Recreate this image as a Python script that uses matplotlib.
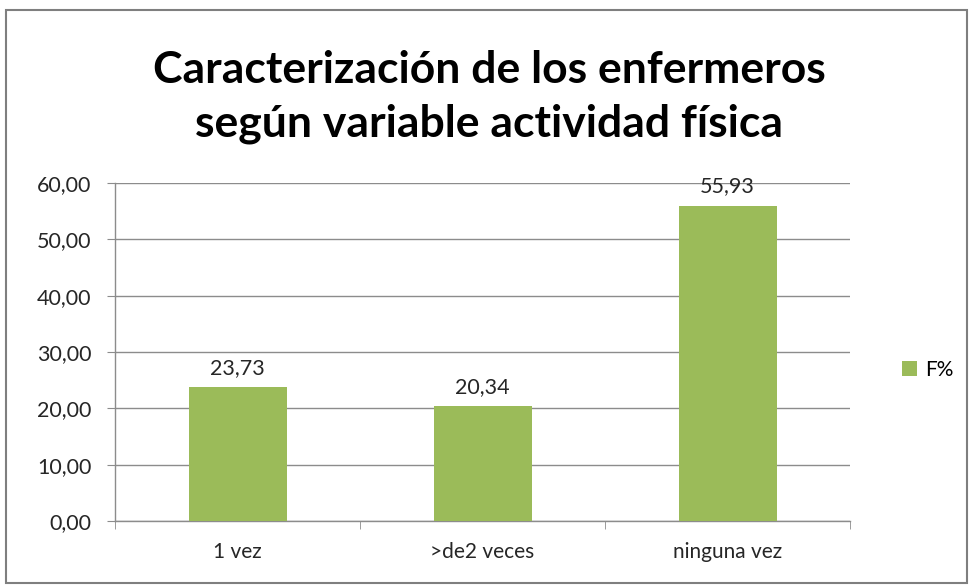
import matplotlib.pyplot as plt
from matplotlib.patches import Rectangle

categories = ["1 vez", ">de2 veces", "ninguna vez"]
values = [23.73, 20.34, 55.93]
series_name = "F%"
y_ticks = [0, 10, 20, 30, 40, 50, 60]

bar_color = "#9BBB59"
grid_color = "#8C8C8C"

plt.rcParams["font.family"] = ["Lato", "DejaVu Sans"]

fig = plt.figure(figsize=(9.73, 5.88), dpi=100)
ax = fig.add_axes([115 / 973, 1 - 521 / 588, 735 / 973, 338 / 588])

# outer chart frame
fig.patches.append(Rectangle((6 / 973, 1 - 583 / 588), 961 / 973, 573 / 588,
                             transform=fig.transFigure, fill=False,
                             edgecolor="#7F7F7F", linewidth=1.5))

x = list(range(len(categories)))
bars = ax.bar(x, values, width=0.4, color=bar_color, label=series_name, zorder=3)

for xi, v in zip(x, values):
    ax.annotate(f"{v:.2f}".replace(".", ","), (xi, v), xytext=(0, 7),
                textcoords="offset points", ha="center", va="bottom",
                fontsize=15.5, color="#262626")

ax.set_xlim(-0.5, len(categories) - 0.5)
ax.set_ylim(0, 60)
ax.set_yticks(y_ticks)
ax.set_yticklabels([f"{t:.2f}".replace(".", ",") for t in y_ticks],
                   fontsize=15.5, color="#262626")
ax.set_xticks(x)
ax.set_xticklabels(categories, fontsize=15, color="#262626")
ax.set_xticks([i + 0.5 for i in range(-1, len(categories))], minor=True)
ax.tick_params(axis="x", which="major", length=0, pad=15)
ax.tick_params(axis="x", which="minor", length=6, color=grid_color, direction="out")
ax.tick_params(axis="y", length=6, color=grid_color, direction="out", pad=11)

ax.grid(axis="y", color=grid_color, linewidth=1, zorder=0)
for side in ["top", "right"]:
    ax.spines[side].set_visible(False)
for side in ["left", "bottom"]:
    ax.spines[side].set_color(grid_color)
    ax.spines[side].set_linewidth(1)

fig.text(489 / 973, 1 - 97 / 588,
         "Caracterización de los enfermeros\nsegún variable actividad física",
         ha="center", va="center", fontsize=32, fontweight="bold",
         linespacing=1.38, color="black")

leg = fig.legend(handles=[bars], labels=[series_name], loc="center left",
                 bbox_to_anchor=(883 / 973, 1 - 370 / 588), frameon=False,
                 fontsize=15, handlelength=0.75, handleheight=0.75,
                 handletextpad=0.35)

plt.savefig("out.png", dpi=100)
